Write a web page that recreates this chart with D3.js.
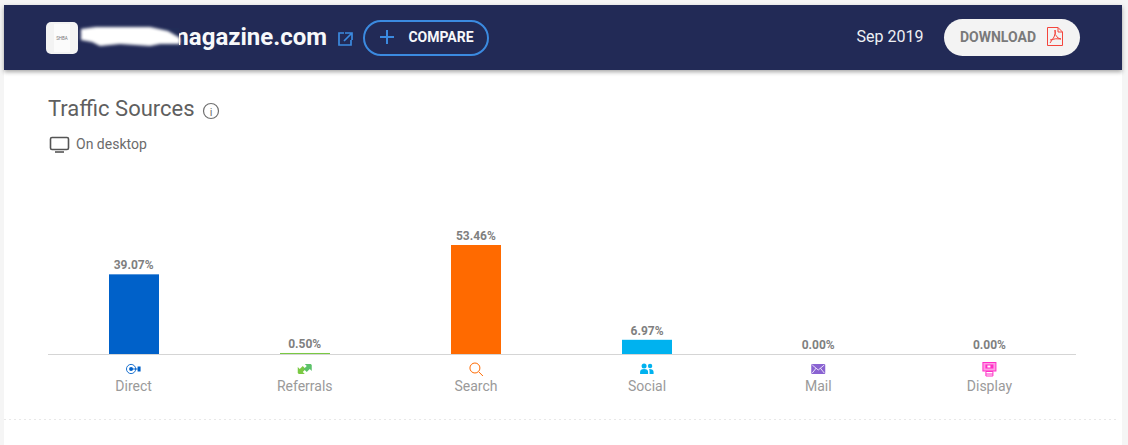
<!DOCTYPE html>
<html><head><meta charset="utf-8">
<script src="https://cdn.jsdelivr.net/npm/d3@7"></script>
<style>
html,body{margin:0;padding:0;background:#f5f5f5;overflow:hidden}
svg{display:block;font-family:Roboto,sans-serif}
</style></head><body><svg id="c" width="1128" height="445"></svg>
<script>
const categories=["Direct","Referrals","Search","Social","Mail","Display"];
const shares=[39.07,0.50,53.46,6.97,0.00,0.00];
const barColors=["#0061c9","#7ac943","#ff6a00","#00b2ef","#8a63d2","#ff2fc6"];
const valueLabels=["39.07%","0.50%","53.46%","6.97%","0.00%","0.00%"];

const svg=d3.select("#c");
const defs=svg.append("defs");
const blur=defs.append("filter").attr("id","blur").attr("x","-10%").attr("y","-50%").attr("width","120%").attr("height","200%");
blur.append("feGaussianBlur").attr("stdDeviation",1.5);
const sh=defs.append("filter").attr("id","sh").attr("x","-2%").attr("y","-20%").attr("width","104%").attr("height","150%");
sh.append("feDropShadow").attr("dx",0).attr("dy",2).attr("stdDeviation",2).attr("flood-color","#000").attr("flood-opacity",.35);

// card
svg.append("rect").attr("x",4).attr("y",5).attr("width",1118).attr("height",440).attr("fill","#fff");
// header
svg.append("rect").attr("x",4).attr("y",5).attr("width",1118).attr("height",65).attr("fill","#212c57").attr("filter","url(#sh)");
svg.append("rect").attr("x",46).attr("y",22).attr("width",32).attr("height",32).attr("rx",5).attr("fill","#f3f3f3");
svg.append("rect").attr("x",54).attr("y",24).attr("width",16).attr("height",28).attr("fill","#fbfbfb");
svg.append("text").attr("x",62).attr("y",40).attr("text-anchor","middle").attr("font-size",4.5).attr("fill","#777").text("SHBA");
svg.append("text").attr("x",327).attr("y",45).attr("text-anchor","end").attr("font-size",24).attr("font-weight",700).attr("fill","#f7f8fa").text("magazine.com");
// dark patch hides the left of the first letter, blurred white smear goes over it
svg.append("rect").attr("x",160).attr("y",28).attr("width",19).attr("height",20).attr("fill","#212c57");
svg.append("path").attr("d","M81 29L96 27L150 27L168 31L180 38L180 44L160 44L150 46L120 44L100 46L92 42L81 40Z").attr("fill","#fff").attr("filter","url(#blur)");
// external link icon
svg.append("path").attr("d","M344 33H339V45H351V40M345 33H352V40M352 33L344 41").attr("fill","none").attr("stroke","#3b8ae0").attr("stroke-width",1.7);
// compare
svg.append("rect").attr("x",364).attr("y",21).attr("width",124).attr("height",34).attr("rx",17).attr("fill","none").attr("stroke","#3b8ae0").attr("stroke-width",2);
svg.append("path").attr("d","M387 30V44M380 37H394").attr("stroke","#3b8ae0").attr("stroke-width",2).attr("fill","none");
svg.append("text").attr("x",441).attr("y",42).attr("text-anchor","middle").attr("font-size",14).attr("font-weight",700).attr("fill","#f7f8fa").text("COMPARE");
// date and download
svg.append("text").attr("x",890).attr("y",42).attr("text-anchor","middle").attr("font-size",16).attr("fill","#eef0f4").text("Sep 2019");
svg.append("rect").attr("x",944).attr("y",19).attr("width",136).attr("height",37).attr("rx",18.5).attr("fill","#f3f3f3");
svg.append("text").attr("x",998).attr("y",42).attr("text-anchor","middle").attr("font-size",14).attr("font-weight",700).attr("fill","#7a7a7a").text("DOWNLOAD");
svg.append("path").attr("d","M1047.500 27.500H1058L1062.500 32V45.500H1047.500ZM1058 27.500V32H1062.500M1050 43L1054 37Q1056 33 1055 30Q1054 35 1058 38L1061 39Q1056 38 1050 40").attr("fill","none").attr("stroke","#f4453c").attr("stroke-width",1);

// title
svg.append("text").attr("x",48).attr("y",116).attr("font-size",22).attr("fill","#5f5f5f").text("Traffic Sources");
svg.append("circle").attr("cx",211).attr("cy",111).attr("r",7.5).attr("fill","none").attr("stroke","#707070").attr("stroke-width",1.2);
svg.append("text").attr("x",211).attr("y",115.5).attr("text-anchor","middle").attr("font-size",11).attr("fill","#707070").text("i");
// desktop icon
svg.append("rect").attr("x",50.5).attr("y",137.5).attr("width",18).attr("height",12).attr("rx",1.5).attr("fill","none").attr("stroke","#555").attr("stroke-width",1.6);
svg.append("path").attr("d","M55 152H64").attr("stroke","#555").attr("stroke-width",1.6);
svg.append("text").attr("x",76).attr("y",149).attr("font-size",14).attr("fill","#6b6b6b").text("On desktop");

// chart
const x=d3.scaleBand().domain(categories).range([48,1075]);
const y=d3.scaleLinear().domain([0,53.46]).range([354,245]);
const barW=50;
const color=d3.scaleOrdinal().domain(categories).range(barColors);
const cx=c=>x(c)+x.bandwidth()/2;
const rows=categories.map((c,i)=>({c,v:shares[i],label:valueLabels[i]}));

svg.append("g").selectAll("rect").data(rows).join("rect")
  .attr("x",d=>Math.round(cx(d.c)-barW/2)).attr("width",barW)
  .attr("y",d=>y(d.v)).attr("height",d=>y(0)-y(d.v))
  .attr("fill",d=>color(d.c));
svg.append("g").selectAll("text").data(rows).join("text")
  .attr("x",d=>cx(d.c)).attr("y",d=>y(d.v)-5)
  .attr("text-anchor","middle").attr("font-size",12).attr("font-weight",700).attr("fill","#7f7f7f")
  .text(d=>d.label);

const axis=svg.append("g").attr("transform","translate(0,354)").call(d3.axisBottom(x).tickSize(0).tickPadding(27));
axis.select(".domain").attr("d","M48,0.5H1076").attr("stroke","#d5d5d5").attr("stroke-width",1);
axis.selectAll("text").attr("font-family","Roboto,sans-serif").attr("font-size",14).attr("fill","#9a9a9a");

// category icons, each centred on its band
const icons={
 Direct:g=>{g.append("circle").attr("r",4.6).attr("cx",-2.5).attr("fill","none").attr("stroke",color("Direct")).attr("stroke-width",.9);
   g.append("circle").attr("r",2).attr("cx",-2.5).attr("fill",color("Direct"));
   g.append("path").attr("d","M-1 0H4").attr("stroke",color("Direct")).attr("stroke-width",1);
   g.append("rect").attr("x",4).attr("y",-2.5).attr("width",3).attr("height",5).attr("fill",color("Direct"));},
 Referrals:g=>{g.append("path").attr("d","M-7 4V-2L-5 0L-2 -3L1 0L-2 3L0 5H-6Z").attr("fill",color("Referrals"));
   g.append("path").attr("d","M7 -4V2L5 0L2 3L-1 0L2 -3L0 -5H6Z").attr("fill","#5cc26a");},
 Search:g=>{g.append("circle").attr("cx",-1).attr("cy",-1).attr("r",5).attr("fill","none").attr("stroke",color("Search")).attr("stroke-width",1);
   g.append("path").attr("d","M3 3L7 7").attr("stroke",color("Search")).attr("stroke-width",1);},
 Social:g=>{g.append("circle").attr("cx",-3).attr("cy",-3).attr("r",2.5).attr("fill",color("Social"));
   g.append("circle").attr("cx",3).attr("cy",-3).attr("r",2.2).attr("fill",color("Social"));
   g.append("path").attr("d","M-7 5V3Q-7 0 -3 0Q1 0 1 3V5ZM2 0Q6.500 0 6.500 3V5H2.500V3Q2.500 1 2 0Z").attr("fill",color("Social"));},
 Mail:g=>{g.append("rect").attr("x",-7).attr("y",-5).attr("width",14).attr("height",10).attr("rx",1).attr("fill",color("Mail"));
   g.append("path").attr("d","M-6 -4L0 1L6 -4M-6 4L-2 -1M6 4L2 -1").attr("stroke","#e8e0f7").attr("fill","none");},
 Display:g=>{const d=color("Display");
   g.append("rect").attr("x",-6.500).attr("y",-6.500).attr("width",13).attr("height",8.500).attr("fill","#ff9be4").attr("stroke",d).attr("stroke-width",1);
   g.append("rect").attr("x",-4).attr("y",-4.500).attr("width",8).attr("height",4).attr("fill",d);
   g.append("rect").attr("x",-2).attr("y",-3.500).attr("width",3).attr("height",2).attr("fill","#fff");
   g.append("path").attr("d","M-3.500 2.500H3.500M-3.500 5H3.500M-3.500 7H3.500M-3.500 2.500V7M3.500 2.500V7").attr("fill","none").attr("stroke",d).attr("stroke-width",1);}
};
categories.forEach(c=>{icons[c](svg.append("g").attr("transform",`translate(${cx(c)},369)`));});

// dotted separator
svg.append("path").attr("d","M4 419.500H1118").attr("stroke","#e8e8e8").attr("stroke-dasharray","2 3");
</script></body></html>
